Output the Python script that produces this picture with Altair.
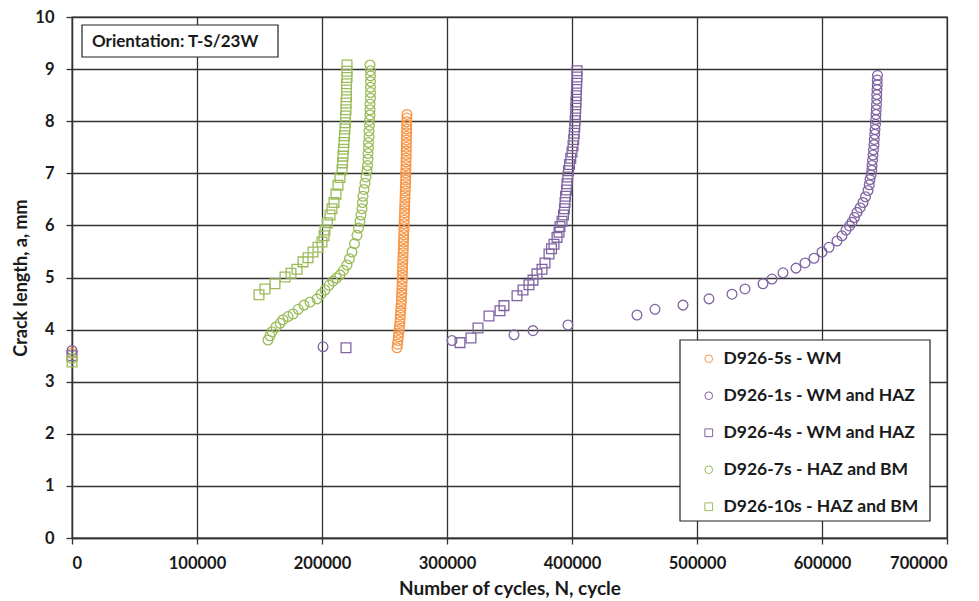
import altair as alt
import pandas as pd

series_names = ["D926-5s - WM", "D926-1s - WM and HAZ", "D926-4s - WM and HAZ",
                "D926-7s - HAZ and BM", "D926-10s - HAZ and BM"]
series_colors = ["#F79646", "#8064A2", "#8064A2", "#9BBB59", "#9BBB59"]
series_shapes = ["circle", "circle", "square", "circle", "square"]

x_ticks = [0, 100000, 200000, 300000, 400000, 500000, 600000, 700000]
y_ticks = [0, 1, 2, 3, 4, 5, 6, 7, 8, 9, 10]

# D926-5s - WM
n_5s = [0, 260000, 260400, 260800, 261100, 261400, 261700, 262000, 262300, 262500, 262700,
        262900, 263100, 263300, 263500, 263600, 263800, 263900, 264000, 264100, 264200,
        264300, 264400, 264500, 264600, 264700, 264800, 264900, 265000, 265100, 265200,
        265300, 265400, 265500, 265600, 265700, 265800, 265900, 266000, 266100, 266200,
        266300, 266400, 266500, 266600, 266700, 266800, 266900, 267000, 267000, 267100,
        267200, 267200, 267300, 267400, 267400, 267500, 267500, 267600, 267600, 267700,
        267700, 267800, 267800, 267900, 268000]
a_5s = [3.55, 3.65, 3.72, 3.79, 3.86, 3.93, 4.00, 4.07, 4.14, 4.21, 4.28,
        4.35, 4.42, 4.49, 4.56, 4.63, 4.70, 4.77, 4.84, 4.91, 4.98,
        5.05, 5.12, 5.19, 5.26, 5.33, 5.40, 5.47, 5.54, 5.61, 5.68,
        5.75, 5.82, 5.89, 5.96, 6.03, 6.10, 6.17, 6.24, 6.31, 6.38,
        6.45, 6.52, 6.59, 6.66, 6.73, 6.80, 6.87, 6.94, 7.01, 7.08,
        7.15, 7.22, 7.29, 7.36, 7.43, 7.50, 7.57, 7.64, 7.71, 7.78,
        7.85, 7.92, 7.99, 8.06, 8.13]

# D926-1s - WM and HAZ
n_1s = [0, 200800, 304000, 353600, 368800, 396800, 452000, 466400, 488800, 509600, 528000,
        538400, 552800, 560000, 568800, 579200, 586400, 593600, 600000, 605600, 612000,
        616000, 619200, 622000, 624000, 626000, 628000, 630500, 632800, 634800, 636800,
        637800, 638400, 639200, 639800, 640000, 640400, 640800, 641200, 641600, 641800,
        642200, 642400, 642800, 643000, 643200, 643400, 643600, 643800, 643800, 644000,
        644200, 644200, 644400]
a_1s = [3.60, 3.67, 3.79, 3.90, 3.98, 4.09, 4.28, 4.39, 4.47, 4.59, 4.68,
        4.78, 4.88, 4.97, 5.09, 5.18, 5.28, 5.37, 5.49, 5.58, 5.70,
        5.80, 5.91, 5.99, 6.06, 6.15, 6.25, 6.34, 6.44, 6.55, 6.67,
        6.78, 6.88, 6.97, 7.06, 7.15, 7.25, 7.35, 7.45, 7.55, 7.65,
        7.75, 7.84, 7.94, 8.03, 8.13, 8.22, 8.32, 8.42, 8.51, 8.61,
        8.70, 8.79, 8.88]

# D926-4s - WM and HAZ
n_4s = [0, 219200, 310400, 319200, 324800, 333600, 342400, 345600, 356000, 360800, 365600,
        368800, 372000, 376000, 378400, 381600, 383600, 385600, 388000, 389600, 390400,
        392000, 393200, 394000, 394400, 394800, 395600, 396000, 396600, 397200, 398000,
        399000, 400000, 400800, 401400, 401800, 402200, 402500, 402800, 403000, 403200,
        403400, 403600, 403800, 404000, 404000]
a_4s = [3.50, 3.65, 3.75, 3.84, 4.03, 4.26, 4.36, 4.46, 4.65, 4.76, 4.86,
        4.95, 5.07, 5.16, 5.28, 5.45, 5.55, 5.64, 5.77, 5.87, 5.98,
        6.08, 6.20, 6.32, 6.44, 6.56, 6.68, 6.80, 6.93, 7.05, 7.17,
        7.29, 7.41, 7.53, 7.65, 7.77, 7.89, 8.01, 8.13, 8.25, 8.37,
        8.49, 8.61, 8.73, 8.85, 8.97]

# D926-7s - HAZ and BM
n_7s = [0, 156800, 158400, 160000, 163200, 166400, 168800, 172800, 176800, 181000, 185600,
        190400, 196000, 199200, 202400, 205600, 208800, 211600, 214400, 217200, 220000,
        222000, 224000, 226000, 228000, 229200, 230400, 231200, 232000, 232400, 232800,
        233600, 234400, 235200, 236000, 236400, 236800, 236800, 237200, 237200, 237600,
        237600, 238000, 238000, 238400, 238400, 238400, 238800, 238800, 238800, 238800,
        238800, 238800, 238400]
a_7s = [3.45, 3.80, 3.88, 3.96, 4.05, 4.12, 4.19, 4.25, 4.30, 4.39, 4.47,
        4.53, 4.59, 4.68, 4.76, 4.85, 4.93, 4.99, 5.05, 5.14, 5.24,
        5.36, 5.49, 5.65, 5.81, 5.95, 6.08, 6.20, 6.32, 6.44, 6.56,
        6.69, 6.81, 6.93, 7.05, 7.15, 7.27, 7.38, 7.49, 7.59, 7.70,
        7.81, 7.92, 8.02, 8.12, 8.22, 8.33, 8.44, 8.55, 8.65, 8.76,
        8.87, 8.97, 9.08]

# D926-10s - HAZ and BM
n_10s = [0, 149600, 154400, 162400, 170400, 175200, 180000, 184800, 188800, 192800, 196800,
         200000, 201600, 202400, 204400, 206400, 208000, 209600, 211200, 212800, 214400,
         216000, 216400, 216800, 217200, 217600, 218000, 218400, 218800, 218800, 219200,
         219200, 219600, 219600, 219600, 220000, 220000, 220000]
a_10s = [3.38, 4.67, 4.78, 4.88, 5.01, 5.08, 5.16, 5.30, 5.38, 5.49, 5.58,
         5.68, 5.80, 5.91, 6.05, 6.20, 6.32, 6.44, 6.60, 6.77, 6.92,
         7.07, 7.20, 7.33, 7.46, 7.59, 7.72, 7.85, 7.97, 8.10, 8.22,
         8.35, 8.47, 8.60, 8.72, 8.84, 8.96, 9.08]

all_n = [n_5s, n_1s, n_4s, n_7s, n_10s]
all_a = [a_5s, a_1s, a_4s, a_7s, a_10s]

rows = []
for name, ns, avals in zip(series_names, all_n, all_a):
    for n, a in zip(ns, avals):
        rows.append({"series": name, "N": n, "a": a})
df = pd.DataFrame(rows)

FONT = "Lato"
W, H = 875, 521

legend_cfg = dict(title=None, orient="none", legendX=628, legendY=333,
                  symbolSize=60, symbolStrokeWidth=1,
                  labelFont=FONT, labelFontSize=17.5, labelFontWeight="bold",
                  labelColor="#1a1a1a", labelLimit=300, labelOffset=6,
                  rowPadding=18, padding=0)

points = alt.Chart(df).mark_point(filled=False, size=95, strokeWidth=1.3, opacity=1).encode(
    x=alt.X("N:Q", scale=alt.Scale(domain=[0, 700000], nice=False),
            axis=alt.Axis(values=x_ticks, format="d", title="Number of cycles, N, cycle",
                          labelPadding=11, titlePadding=8, titleFontSize=19)),
    y=alt.Y("a:Q", scale=alt.Scale(domain=[0, 10], nice=False),
            axis=alt.Axis(values=y_ticks, title="Crack length, a, mm",
                          labelPadding=12, titlePadding=4, titleFontSize=18)),
    color=alt.Color("series:N",
                    scale=alt.Scale(domain=series_names, range=series_colors),
                    legend=alt.Legend(**legend_cfg)),
    shape=alt.Shape("series:N",
                    scale=alt.Scale(domain=series_names, range=series_shapes),
                    legend=alt.Legend(**legend_cfg)),
)

box_data = alt.Data(values=[{"k": 1}])

orient_box = alt.Chart(box_data).mark_rect(fill="white", stroke="#222222", strokeWidth=1.2).encode(
    x=alt.value(10), x2=alt.value(206), y=alt.value(8), y2=alt.value(40))
orient_text = alt.Chart(box_data).mark_text(
    text="Orientation: T-S/23W", font=FONT, fontSize=17, fontWeight="bold",
    align="left", baseline="middle", color="#1a1a1a").encode(
    x=alt.value(20), y=alt.value(25))

legend_box = alt.Chart(box_data).mark_rect(fill="white", stroke="#222222", strokeWidth=1.2).encode(
    x=alt.value(608), x2=alt.value(858), y=alt.value(323), y2=alt.value(504))

chart = alt.layer(points, orient_box, orient_text, legend_box).properties(
    width=W, height=H,
    autosize=alt.AutoSizeParams(type="none"),
    padding={"left": 64, "top": 9, "right": 24, "bottom": 62},
    background="white",
).configure_view(stroke="#333333", strokeWidth=1.3).configure_axis(
    grid=True, gridColor="#333333", gridWidth=1.3, gridOpacity=1,
    domainColor="#333333", domainWidth=1.3,
    tickColor="#333333", tickWidth=1.3, tickSize=6,
    labelFont=FONT, labelFontSize=16.5, labelFontWeight="bold", labelColor="#1a1a1a",
    titleFont=FONT, titleFontWeight="bold", titleColor="#1a1a1a",
)

chart.save("out.html", embed_options={"renderer": "svg", "actions": False})
